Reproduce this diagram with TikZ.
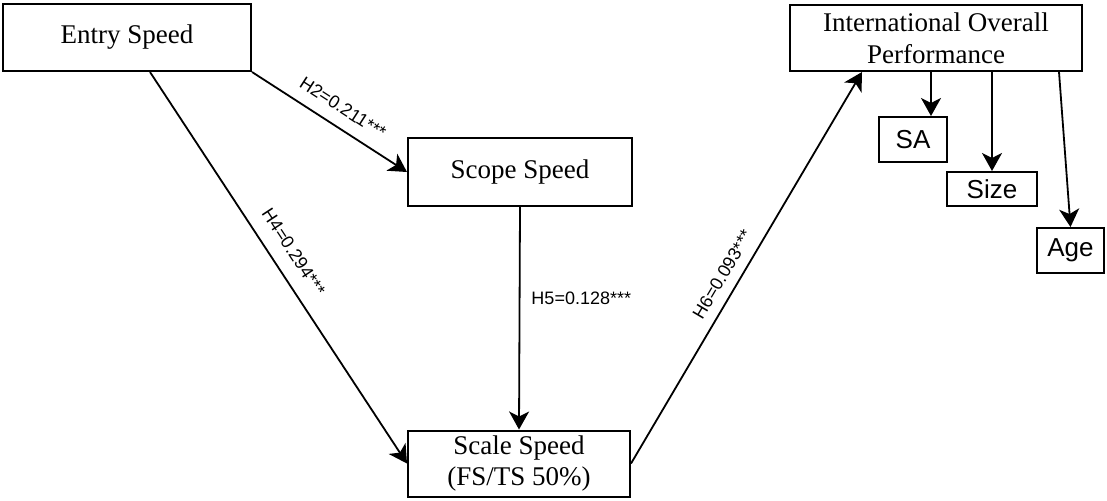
\documentclass[tikz,border=0pt]{standalone}
\usepackage{fontspec}
\setmainfont{Liberation Serif}
\setsansfont{Liberation Sans}
\usetikzlibrary{arrows.meta}

\begin{document}
\begin{tikzpicture}[x=0.5pt,y=-0.5pt,line width=0.9pt,
  >={Stealth[length=9pt,width=10pt,inset=2.5pt]},
  box/.style={draw,line width=1pt,inner sep=0pt,align=center,
    font=\fontsize{13.5}{15.8}\selectfont},
  ctrl/.style={draw,line width=1pt,inner sep=0pt,
    font=\sffamily\fontsize{13}{15}\selectfont},
  hyp/.style={font=\sffamily\fontsize{9}{10}\selectfont,inner sep=2pt}]
\useasboundingbox (0,0) rectangle (1107,500);

\node[box,minimum width=124pt,minimum height=33.5pt] (entry) at (127,37.5) {Entry Speed};
\node[box,minimum width=112pt,minimum height=34pt] (scope) at (520,172) {Scope Speed};
\node[box,minimum width=111pt,minimum height=33pt] (scale) at (519,463.5) {Scale Speed\\(FS/TS 50\%)};
\node[box,minimum width=146pt,minimum height=33pt] (iop) at (936,38) {International Overall\\Performance};

% control variables
\node[ctrl,minimum width=34pt,minimum height=22.5pt] (sa) at (913,139.5) {SA};
\node[ctrl,minimum width=45pt,minimum height=17pt] (size) at (992,189) {Size};
\node[ctrl,minimum width=33.5pt,minimum height=22.5pt] (age) at (1070.5,250.5) {Age};

\path[->] (entry.south east) edge node[hyp,sloped,above=4pt,pos=0.52] {H2=0.211***} (scope.west)
  ([xshift=11.5pt]entry.south) edge node[hyp,sloped,above=5pt,pos=0.49] {H4=0.294***} (scale.west)
  (scope.south) edge node[hyp,right=3.5pt,pos=0.41] {H5=0.128***} (scale.north)
  (scale.east) edge node[hyp,sloped,above=3pt,pos=0.46] {H6=0.093***} ([xshift=-37pt]iop.south)
  ([xshift=-2.5pt]iop.south) edge ([xshift=9pt]sa.north)
  ([xshift=28pt]iop.south) edge (size.north)
  ([xshift=61.5pt]iop.south) edge (age.north);
\end{tikzpicture}
\end{document}
